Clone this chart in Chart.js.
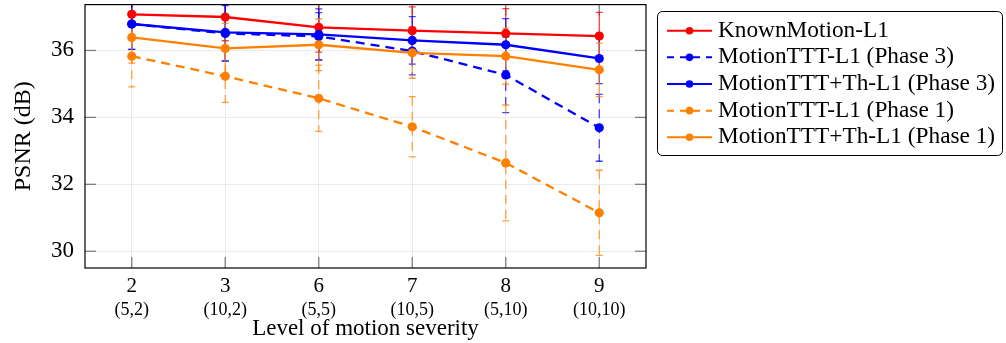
<!DOCTYPE html>
<html><head><meta charset="utf-8">
<script src="https://cdn.jsdelivr.net/npm/chart.js@4.4.1/dist/chart.umd.min.js"></script>
<style>html,body{margin:0;padding:0;background:#fff;overflow:hidden}#wrap{width:1006px;height:343px;position:relative}</style>
</head><body><div id="wrap"><canvas id="c" width="1006" height="343"></canvas></div>
<script>
// ---- data ----
const levels = ['2','3','6','7','8','9'];
const blurParams = ['(5,2)','(10,2)','(5,5)','(10,5)','(5,10)','(10,10)'];
const yTicks = [30,32,34,36];
const seriesNames = ['KnownMotion-L1','MotionTTT-L1 (Phase 3)','MotionTTT+Th-L1 (Phase 3)','MotionTTT-L1 (Phase 1)','MotionTTT+Th-L1 (Phase 1)'];
const knownMotion      = [37.08, 37.00, 36.69, 36.59, 36.51, 36.43];
const knownMotionErr   = [0.71, 0.71, 0.74, 0.71, 0.74, 0.71];
const tttPhase3        = [36.79, 36.51, 36.42, 35.98, 35.27, 33.69];
const tttPhase3Err     = [0.76, 0.83, 0.71, 0.71, 1.13, 1.00];
const tttThPhase3      = [36.79, 36.54, 36.48, 36.30, 36.17, 35.76];
const tttThPhase3Err   = [0.76, 0.85, 0.76, 0.71, 0.78, 0.75];
const tttPhase1        = [35.83, 35.23, 34.57, 33.72, 32.64, 31.15];
const tttPhase1Err     = [0.92, 0.78, 0.99, 0.90, 1.73, 1.27];
const tttThPhase1      = [36.39, 36.06, 36.17, 35.93, 35.83, 35.42];
const tttThPhase1Err   = [0.77, 0.75, 0.77, 0.76, 0.84, 0.80];

const seriesValues = [knownMotion, tttPhase3, tttThPhase3, tttPhase1, tttThPhase1];
const seriesErrors = [knownMotionErr, tttPhase3Err, tttThPhase3Err, tttPhase1Err, tttThPhase1Err];
const seriesColors = ['#ff0000','#0000ff','#0000ff','#ff8000','#ff8000'];
const seriesDashed = [false, true, false, true, false];
const DASH = [9,6];

Chart.defaults.font.family = "'Liberation Serif', 'Times New Roman', serif";
Chart.defaults.color = '#000';

const datasets = seriesValues.map((vals, i) => ({
  label: seriesNames[i],
  data: vals,
  borderColor: seriesColors[i],
  backgroundColor: seriesColors[i],
  borderWidth: 2.3,
  borderDash: seriesDashed[i] ? DASH : [],
  pointRadius: 4.6,
  pointHoverRadius: 4.6,
  pointBorderWidth: 0,
  tension: 0,
  fill: false,
  order: 10 - i,
  errors: seriesErrors[i],
  dashed: seriesDashed[i]
}));

function seg(ctx, x1, y1, x2, y2){ ctx.beginPath(); ctx.moveTo(x1,y1); ctx.lineTo(x2,y2); ctx.stroke(); }
function noPad(s){ s.paddingTop = 0; s.paddingBottom = 0; s.paddingLeft = 0; s.paddingRight = 0; }

const decorPlugin = {
  id: 'decor',
  beforeDatasetsDraw(chart){
    const {ctx, chartArea:a, scales} = chart;
    const x = scales.x, y = scales.y;
    ctx.save();
    // inward tick marks
    ctx.strokeStyle = '#7f7f7f'; ctx.lineWidth = 1.3;
    yTicks.forEach(v => { const py = y.getPixelForValue(v); seg(ctx, a.left, py, a.left+11, py); seg(ctx, a.right-11, py, a.right, py); });
    levels.forEach((l, i) => { const px = x.getPixelForValue(i); seg(ctx, px, a.bottom, px, a.bottom-11); seg(ctx, px, a.top, px, a.top+11); });
    // error bars
    ctx.beginPath(); ctx.rect(a.left, a.top, a.right-a.left, a.bottom-a.top); ctx.clip();
    ctx.lineWidth = 1.3; ctx.globalAlpha = 0.75;
    chart.data.datasets.forEach(ds => {
      ctx.strokeStyle = ds.borderColor;
      ds.data.forEach((v, i) => {
        const e = ds.errors[i];
        const px = x.getPixelForValue(i);
        const yHi = y.getPixelForValue(v + e), yLo = y.getPixelForValue(v - e);
        ctx.setLineDash(ds.dashed ? DASH : []);
        seg(ctx, px, yHi, px, yLo);
        ctx.setLineDash([]);
        seg(ctx, px-3.5, yHi, px+3.5, yHi);
        seg(ctx, px-3.5, yLo, px+3.5, yLo);
      });
    });
    ctx.restore();
  },
  afterDatasetsDraw(chart){
    const {ctx, chartArea:a} = chart;
    ctx.save();
    ctx.strokeStyle = '#000'; ctx.lineWidth = 1.2;
    ctx.strokeRect(a.left, a.top, a.right-a.left, a.bottom-a.top);
    ctx.restore();
  },
  afterDraw(chart){
    const ctx = chart.ctx;
    ctx.save();
    // legend box
    const bx = 657.5, by = 11.5, bw = 345, bh = 144, r = 5;
    ctx.beginPath();
    ctx.moveTo(bx+r, by); ctx.lineTo(bx+bw-r, by); ctx.arcTo(bx+bw, by, bx+bw, by+r, r);
    ctx.lineTo(bx+bw, by+bh-r); ctx.arcTo(bx+bw, by+bh, bx+bw-r, by+bh, r);
    ctx.lineTo(bx+r, by+bh); ctx.arcTo(bx, by+bh, bx, by+bh-r, r);
    ctx.lineTo(bx, by+r); ctx.arcTo(bx, by, bx+r, by, r); ctx.closePath();
    ctx.fillStyle = '#fff'; ctx.fill();
    ctx.strokeStyle = '#000'; ctx.lineWidth = 1; ctx.stroke();
    chart.data.datasets.forEach((ds, i) => {
      const cy = 30.7 + i*26.65;
      ctx.strokeStyle = ds.borderColor; ctx.lineWidth = 2;
      ctx.setLineDash(ds.dashed ? [7,6] : []);
      seg(ctx, 667, cy, 712, cy);
      ctx.setLineDash([]);
      ctx.fillStyle = ds.borderColor;
      ctx.beginPath(); ctx.arc(689.5, cy, 3.8, 0, Math.PI*2); ctx.fill();
      ctx.fillStyle = '#000';
      ctx.font = "23.3px 'Liberation Serif'";
      ctx.textBaseline = 'middle'; ctx.textAlign = 'left';
      ctx.fillText(ds.label, 718, cy);
    });
    ctx.restore();
  }
};

new Chart(document.getElementById('c'), {
  type: 'line',
  data: { labels: levels, datasets },
  options: {
    responsive: false,
    devicePixelRatio: 1,
    animation: false,
    layout: { padding: { left: 0, right: 360, top: 3, bottom: 0 } },
    plugins: { legend: { display: false }, tooltip: { enabled: false } },
    scales: {
      x: {
        type: 'category', position: 'bottom', offset: true, weight: 0,
        grid: { color: '#ebebeb', lineWidth: 1, drawTicks: false, offset: false },
        border: { display: false },
        ticks: { font: { size: 21 }, padding: 6, maxRotation: 0, autoSkip: false },
        afterFit(s){ s.height = 31; noPad(s); }
      },
      x2: {
        type: 'category', position: 'bottom', offset: true, weight: 1, labels: blurParams,
        grid: { display: false, drawTicks: false }, border: { display: false },
        ticks: { font: { size: 18 }, padding: 0, maxRotation: 0, autoSkip: false },
        title: { display: true, text: 'Level of motion severity', font: { size: 23, lineHeight: 1 }, padding: { top: 0, bottom: 2.2 } },
        afterFit(s){ s.height = 44; noPad(s); }
      },
      y: {
        type: 'linear', min: 29.5, max: 37.37,
        afterBuildTicks(s){ s.ticks = yTicks.map(v => ({ value: v })); },
        grid: { color: '#ebebeb', lineWidth: 1, drawTicks: false },
        border: { display: false },
        ticks: { font: { size: 23 }, padding: 11 },
        title: { display: true, text: 'PSNR (dB)', font: { size: 24 }, padding: { top: 9, bottom: 0 } },
        afterFit(s){ s.width = 85; noPad(s); }
      }
    }
  },
  plugins: [decorPlugin]
});
</script>
</body></html>
